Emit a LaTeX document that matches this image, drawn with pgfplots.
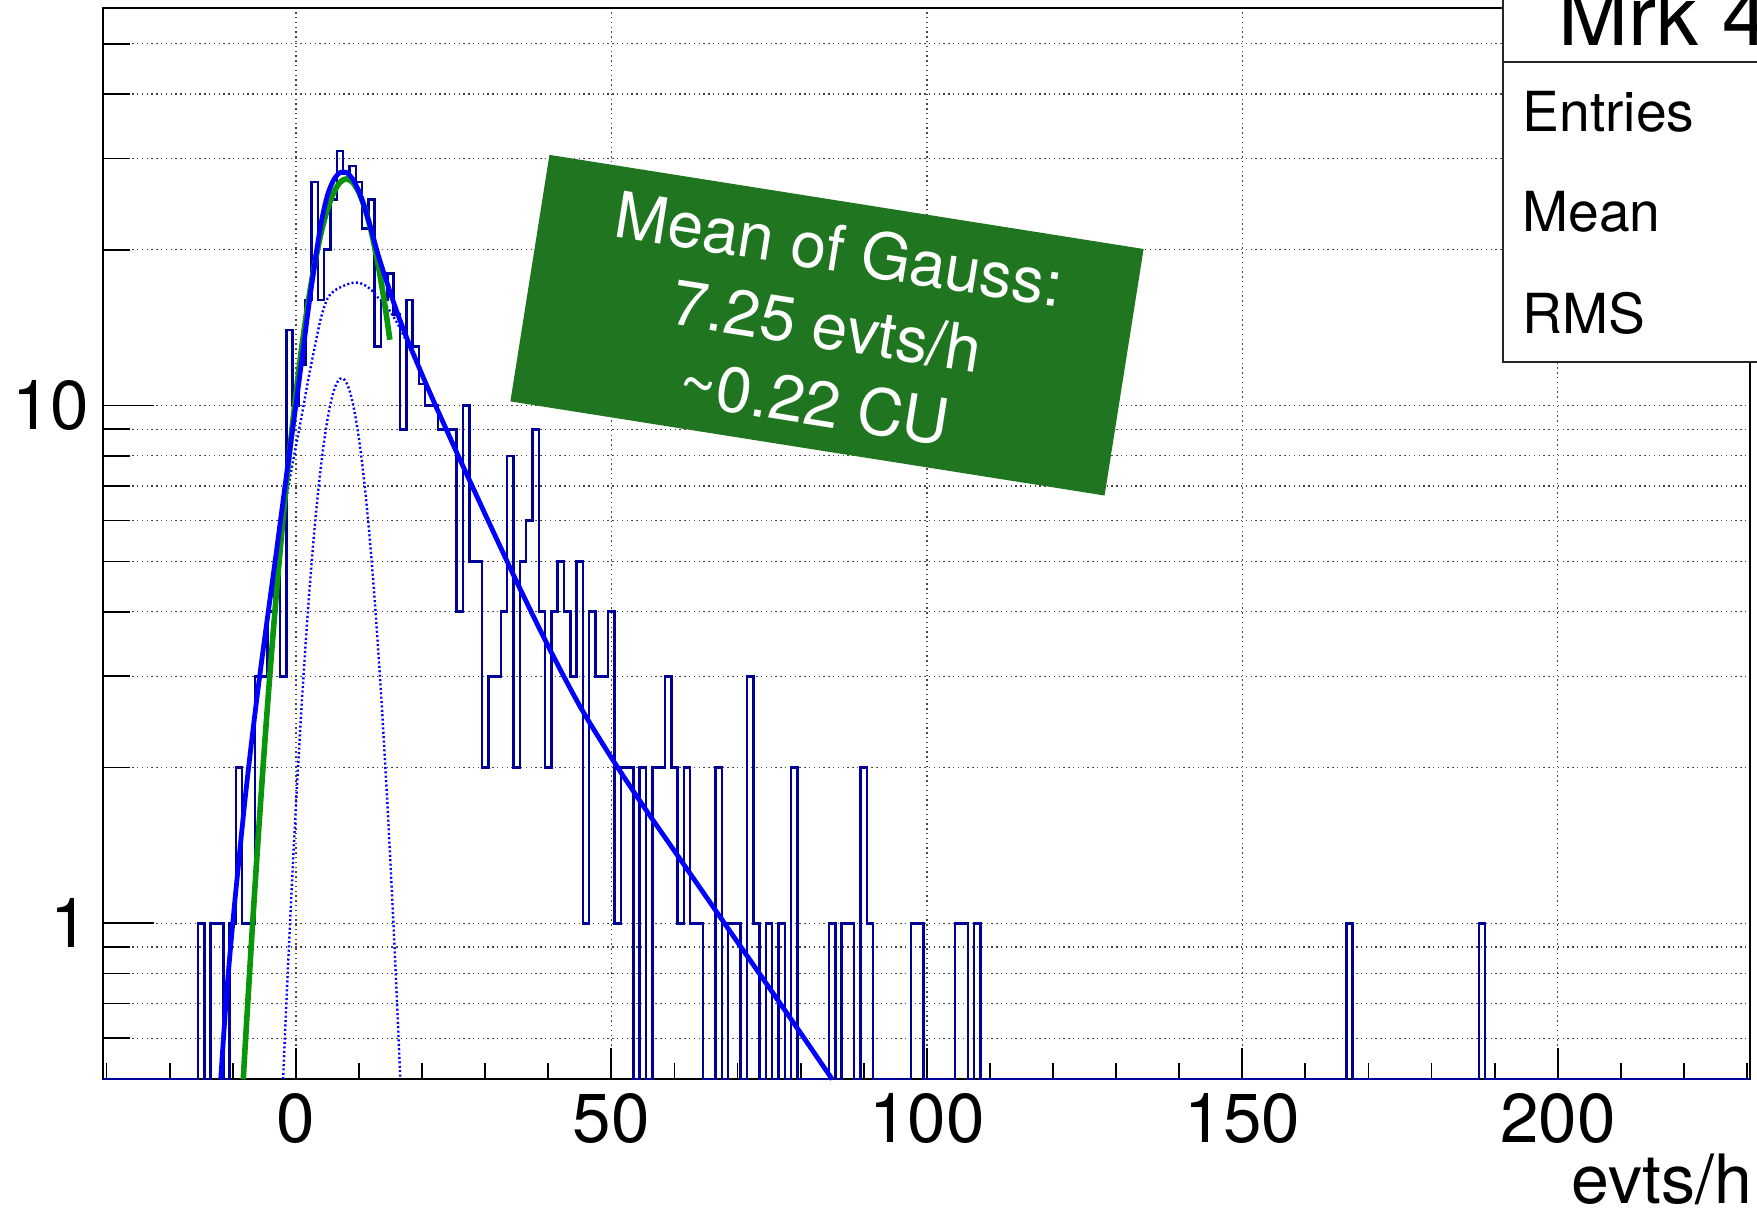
\documentclass[border=0pt]{standalone}
\usepackage{pgfplots}
\pgfplotsset{compat=1.18}
\usepackage{fontspec}
\setmainfont{TeX Gyre Heros}
\definecolor{histblue}{RGB}{0,0,153}
\definecolor{fitblue}{RGB}{0,0,255}
\definecolor{fitgreen}{RGB}{10,150,10}
\definecolor{boxgreen}{RGB}{32,118,32}
\definecolor{gridgray}{RGB}{70,70,70}

\begin{document}
\begin{tikzpicture}
\useasboundingbox (-25.85pt,-33.2pt) rectangle (413.4pt,269.8pt);
\begin{scope}
\clip (-25.85pt,-33.2pt) rectangle (413.4pt,269.8pt);
\begin{axis}[
  at={(0pt,0pt)}, anchor=south west,
  scale only axis, width=411.7pt, height=267.7pt,
  xmin=-30.5, xmax=230.5, ymin=0.5, ymax=58.5, ymode=log,
  clip=false,
  axis line style={line width=0.5pt, black},
  tick align=inside, tick pos=left,
  xtick={0,50,100,150,200},
  minor xtick={-30,-20,-10,10,20,30,40,60,70,80,90,110,120,130,140,160,170,180,190,210,220,230},
  ytick={1,10}, yticklabels={1,10},
  minor ytick={0.6,0.7,0.8,0.9,2,3,4,5,6,7,8,9,20,30,40,50},
  xmajorgrids, ymajorgrids, yminorgrids,
  grid style={gridgray, line width=0.35pt, dash pattern=on 0.35pt off 0.85pt},
  xtick style={line width=0.45pt, black, /pgfplots/major tick length=7.75pt, /pgfplots/minor tick length=4pt},
  ytick style={line width=0.45pt, black, /pgfplots/major tick length=12.6pt, /pgfplots/minor tick length=6.7pt},
  /pgf/number format/assume math mode=true,
  ticklabel style={font=\fontsize{17.3}{20}\selectfont},
  xlabel={evts/h},
  xlabel style={at={(axis description cs:1,0)}, anchor=base east, yshift=-31.0pt, xshift=0.6pt, inner sep=0pt, font=\fontsize{17}{20}\selectfont},
]
% histogram (bin left edge, content); empty bins drawn at the frame bottom
\addplot[const plot mark left, histblue, line width=0.62pt] table {
x y
-30.5 0.5
-15.5 1
-14.5 0.5
-13.5 1
-11.5 0.5
-10.5 1
-9.5 2
-8.5 1
-6.5 3
-4.5 4
-3.5 5
-2.5 3
-1.5 14
-0.5 10
0.5 12
1.5 16
2.5 27
3.5 16
4.5 20
5.5 25
6.5 31
7.5 28
8.5 29
9.5 27
10.5 22
11.5 25
12.5 13
13.5 16
14.5 18
15.5 15
16.5 9
17.5 16
18.5 13
19.5 11
20.5 10
22.5 9
25.5 4
26.5 10
27.5 5
29.5 2
30.5 3
32.5 4
33.5 8
34.5 2
35.5 5
36.5 6
37.5 9
38.5 4
39.5 2
40.5 4
41.5 5
42.5 4
43.5 3
44.5 5
45.5 1
46.5 4
47.5 3
49.5 4
50.5 1
51.5 2
53.5 0.5
54.5 2
55.5 0.5
56.5 2
58.5 3
59.5 2
60.5 1
61.5 2
62.5 1
64.5 0.5
66.5 2
67.5 0.5
68.5 1
70.5 0.5
71.5 3
72.5 1
73.5 0.5
74.5 1
75.5 0.5
76.5 1
77.5 0.5
78.5 2
79.5 0.5
84.5 1
85.5 0.5
86.5 1
88.5 0.5
89.5 2
90.5 1
91.5 0.5
97.5 1
99.5 0.5
104.5 1
106.5 0.5
107.5 1
108.5 0.5
166.5 1
167.5 0.5
187.5 1
188.5 0.5
230.5 0.5
};
% second fit component (dotted)
\addplot[fitblue, line width=0.6pt, dash pattern=on 0.5pt off 0.6pt, smooth] coordinates {
(-11.9,0.5) (-11,0.724) (-10,1.0) (-9,1.334) (-8,1.755) (-7,2.24) (-6,2.81) (-5,3.46)
(-4,4.20) (-3,5.06) (-2,6.07) (-1,7.17) (0,8.33) (1,9.66) (2,11.28) (3,12.99) (4,14.81)
(5,16.09) (6,16.63) (7,16.91) (8,17.12) (9,17.26) (10,17.27) (11,17.06) (12,16.71)
(13,16.18) (14,15.75) (15,15.17) (16,14.48) (17,13.72) (18,12.94) (19,12.19) (20,11.45)
(21,10.76) (22,10.09) (23,9.48) (24,8.91) (26,7.87) (28,6.97) (30,6.17) (35,4.57)
(40,3.43) (45,2.63) (50,2.09) (55,1.69) (60,1.38) (65,1.127) (70,0.92) (75,0.752)
(80,0.614) (85,0.5)
};
% narrow Gauss component (dotted)
\addplot[fitblue, line width=0.6pt, dash pattern=on 0.5pt off 0.6pt, smooth] coordinates {
(-2.02,0.5) (-1.5,0.702) (-1,0.955) (-0.5,1.276) (0,1.675) (0.5,2.157) (1,2.731)
(1.5,3.395) (2,4.144) (2.5,4.967) (3,5.848) (3.5,6.762) (4,7.679) (4.5,8.564) (5,9.38)
(5.5,10.09) (6,10.66) (6.5,11.06) (7,11.27) (7.5,11.28) (8,11.08) (8.5,10.70) (9,10.14)
(9.5,9.441) (10,8.632) (10.5,7.752) (11,6.835) (11.5,5.92) (12,5.035) (12.5,4.206)
(13,3.451) (13.5,2.781) (14,2.2) (14.5,1.71) (15,1.305) (15.5,0.979) (16,0.72)
(16.5,0.521) (16.56,0.5)
};
% Gauss fit (green)
\addplot[fitgreen, line width=1.4pt, smooth] coordinates {
(-8.33,0.5) (-8,0.587) (-7,0.934) (-6,1.444) (-5,2.166) (-4,3.153) (-3,4.454) (-2,6.102)
(-1,8.121) (0,10.48) (1,13.13) (2,15.96) (3,18.82) (4,21.55) (5,23.94) (6,25.80)
(7,26.99) (8,27.4) (9,26.99) (10,25.80) (11,23.94) (12,21.55) (13,18.82) (14,15.96)
(14.9,13.40)
};
% total fit (solid blue)
\addplot[fitblue, line width=1.2pt, smooth] coordinates {
(-11.9,0.5) (-11,0.724) (-10,1.0) (-9,1.334) (-8,1.758) (-7,2.249) (-6,2.831) (-5,3.508)
(-4,4.315) (-3,5.309) (-2,6.577) (-1,8.128) (0,10.0) (1,12.39) (2,15.42) (3,18.84)
(4,22.49) (5,25.47) (6,27.29) (7,28.18) (8,28.2) (9,27.4) (10,25.9) (11,23.9) (12,21.75)
(13,19.63) (14,17.95) (15,16.48) (16,15.2) (17,14.09) (18,13.12) (19,12.27) (20,11.48)
(21,10.76) (22,10.09) (23,9.48) (24,8.91) (26,7.87) (28,6.97) (30,6.17) (35,4.57)
(40,3.43) (45,2.63) (50,2.09) (55,1.69) (60,1.38) (65,1.127) (70,0.92) (75,0.752)
(80,0.614) (85,0.5)
};
\end{axis}
% annotation box
\node[fill=boxgreen, rotate=-9, minimum width=150.4pt, minimum height=62.4pt, inner sep=0pt,
      text=white, font=\fontsize{16}{19.4}\selectfont, align=center]
  at (180.9pt,188.5pt) {Mean of Gauss:\\7.25 evts/h\\\textasciitilde0.22 CU};
% stats box and title box (cut off by the picture edge)
\filldraw[fill=white, draw=black!85, line width=0.5pt] (349.8pt,179.35pt) rectangle (460pt,254.35pt);
\filldraw[fill=white, draw=black!85, line width=0.5pt] (349.8pt,254.35pt) rectangle (460pt,290pt);
\node[anchor=base west, inner sep=0pt, font=\fontsize{21}{25}\selectfont] at (363.6pt,258.5pt) {Mrk 421};
\node[anchor=base west, inner sep=0pt, font=\fontsize{13.8}{16}\selectfont] at (354.6pt,236.85pt) {Entries};
\node[anchor=base west, inner sep=0pt, font=\fontsize{13.8}{16}\selectfont] at (354.6pt,211.85pt) {Mean};
\node[anchor=base west, inner sep=0pt, font=\fontsize{13.8}{16}\selectfont] at (354.6pt,186.45pt) {RMS};
\end{scope}
\end{tikzpicture}
\end{document}
